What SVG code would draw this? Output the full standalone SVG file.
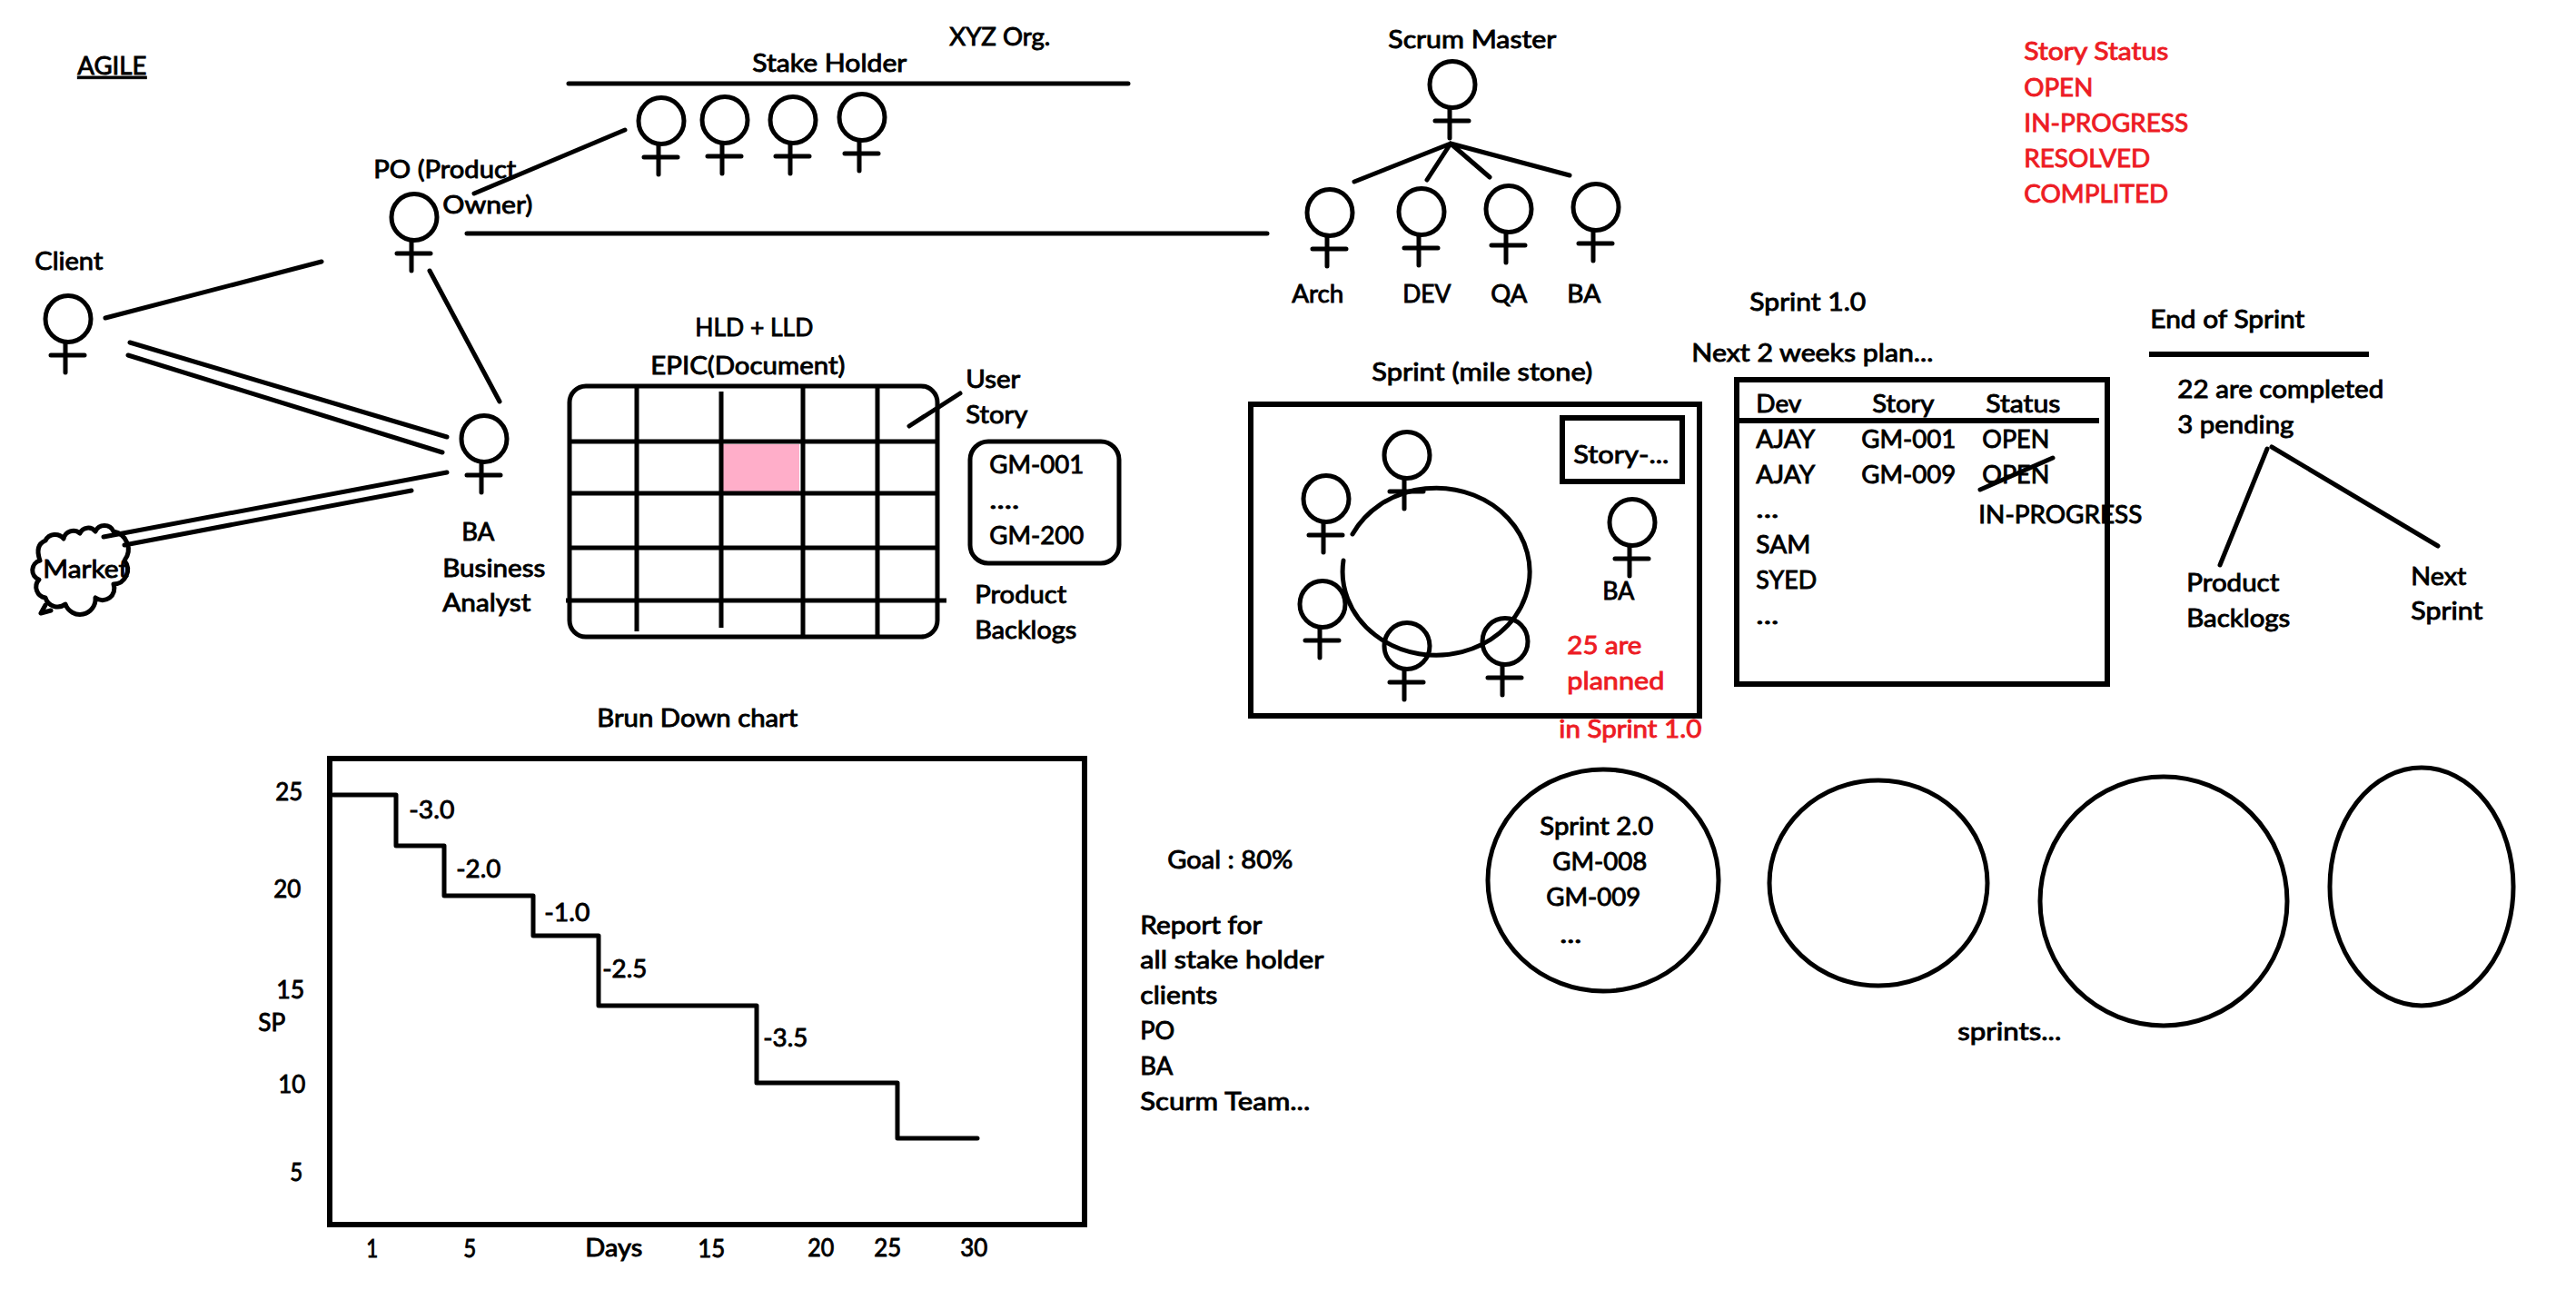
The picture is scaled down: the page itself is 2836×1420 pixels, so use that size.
<svg xmlns="http://www.w3.org/2000/svg" xmlns:xlink="http://www.w3.org/1999/xlink" width="2836" height="1420" viewBox="0 0 2836 1420">
<style>
text{font-family:"Lato","Carlito","Open Sans",sans-serif;font-size:27px;fill:#000;stroke:#000;stroke-width:.9px;transform:translateX(-.7px)}
text.r{fill:#ED1C24;stroke:#ED1C24}
.l,.s{fill:none;stroke:#000;stroke-width:5;stroke-linecap:round;stroke-linejoin:round}
.b{fill:none;stroke:#000;stroke-width:6}
.g{fill:none;stroke:#000;stroke-width:5}
</style>
<defs>
<g id="fig" class="s"><ellipse cx="0" cy="0" rx="25" ry="25.5"/><path d="M-3 26V59M-19 40H18"/></g>
</defs>
<rect width="2836" height="1420" fill="#fff"/>
<g id="title"><text x="86" y="82" textLength="76" lengthAdjust="spacingAndGlyphs" text-decoration="underline">AGILE</text><text x="1046" y="50" textLength="111" lengthAdjust="spacingAndGlyphs">XYZ Org.</text></g>
<g id="connectors">
<path class="l" d="M626 92H1242M522 213L688 143M514 257H1395M116 350L354 288M143 377L492 481M141 391L487 498M473 298L550 442M114 591L492 520M137 600L453 540"/>
<path class="l" d="M1597 158L1491 200M1597 158L1571 198M1597 158L1640 195M1597 158L1728 193"/>
<path class="l" d="M1057 433L1001 469M2496 494L2444 622M2501 492L2684 601"/>
</g>
<g id="stake-holder"><text x="829" y="79" textLength="170" lengthAdjust="spacingAndGlyphs">Stake Holder</text>
<use xlink:href="#fig" href="#fig" x="728" y="133"/><use href="#fig" x="798" y="132"/><use href="#fig" x="873" y="132"/><use href="#fig" x="949" y="129"/></g>
<g id="po"><use href="#fig" x="456" y="239"/><text x="412" y="196" textLength="157" lengthAdjust="spacingAndGlyphs">PO (Product</text><text x="488" y="235" textLength="99" lengthAdjust="spacingAndGlyphs">Owner)</text></g>
<g id="client"><use href="#fig" x="75" y="351"/><text x="39" y="297" textLength="75" lengthAdjust="spacingAndGlyphs">Client</text></g>
<g id="ba"><use href="#fig" x="533" y="483"/><text x="509" y="595" textLength="36" lengthAdjust="spacingAndGlyphs">BA</text><text x="488" y="635" textLength="113" lengthAdjust="spacingAndGlyphs">Business</text><text x="488" y="673" textLength="97" lengthAdjust="spacingAndGlyphs">Analyst</text></g>
<g id="market"><path class="l" d="M70 593A11 11 0 0 1 88 587A10 10 0 0 1 105 585A11 11 0 0 1 125 585A20 20 0 0 1 137 617A16 16 0 0 1 125 643A13 13 0 0 1 105 658A17 17 0 0 1 72 665A14 14 0 0 1 50 658A12 12 0 0 1 43 638A11 11 0 0 1 44 617Q38 600 50 595A12 12 0 0 1 70 593Z"/><path class="l" d="M50 666L45 675L56 672"/><text x="48" y="636" textLength="94" lengthAdjust="spacingAndGlyphs">Market</text></g>
<g id="epic"><text x="766" y="370" textLength="130" lengthAdjust="spacingAndGlyphs">HLD + LLD</text><text x="717" y="412" textLength="214" lengthAdjust="spacingAndGlyphs">EPIC(Document)</text>
<rect x="796" y="489" width="84" height="52" fill="#FFAEC9"/>
<rect class="g" x="627" y="425" width="405" height="276" rx="18"/>
<path class="g" d="M701 427V695M794 431V691M884 425V701M966 425V701M627 486H1032M627 543H1032M627 603H1032M623 661H1042"/>
<text x="1064" y="427" textLength="60" lengthAdjust="spacingAndGlyphs">User</text><text x="1064" y="466" textLength="68" lengthAdjust="spacingAndGlyphs">Story</text>
<text x="1074" y="664" textLength="101" lengthAdjust="spacingAndGlyphs">Product</text><text x="1074" y="703" textLength="112" lengthAdjust="spacingAndGlyphs">Backlogs</text></g>
<g id="stories"><rect class="g" x="1068" y="486" width="164" height="134" rx="20"/><text x="1090" y="521" textLength="104" lengthAdjust="spacingAndGlyphs">GM-001</text><text x="1090" y="560" textLength="33" lengthAdjust="spacingAndGlyphs">....</text><text x="1090" y="599" textLength="104" lengthAdjust="spacingAndGlyphs">GM-200</text></g>
<g id="scrum"><text x="1529" y="53" textLength="185" lengthAdjust="spacingAndGlyphs">Scrum Master</text><use href="#fig" x="1599" y="93"/></g>
<g id="arch"><use href="#fig" x="1464" y="234"/><text x="1423" y="333" textLength="57" lengthAdjust="spacingAndGlyphs">Arch</text></g>
<g id="dev"><use href="#fig" x="1565" y="233"/><text x="1545" y="333" textLength="53" lengthAdjust="spacingAndGlyphs">DEV</text></g>
<g id="qa"><use href="#fig" x="1661" y="230"/><text x="1642" y="333" textLength="40" lengthAdjust="spacingAndGlyphs">QA</text></g>
<g id="ba2"><use href="#fig" x="1757" y="228"/><text x="1726" y="333" textLength="37" lengthAdjust="spacingAndGlyphs">BA</text></g>
<g id="status"><text class="r" x="2229" y="66" textLength="159" lengthAdjust="spacingAndGlyphs">Story Status</text><text class="r" x="2229" y="106" textLength="76" lengthAdjust="spacingAndGlyphs">OPEN</text><text class="r" x="2229" y="145" textLength="181" lengthAdjust="spacingAndGlyphs">IN-PROGRESS</text><text class="r" x="2229" y="184" textLength="139" lengthAdjust="spacingAndGlyphs">RESOLVED</text><text class="r" x="2229" y="223" textLength="159" lengthAdjust="spacingAndGlyphs">COMPLITED</text></g>
<g id="sprint"><text x="1511" y="419" textLength="243" lengthAdjust="spacingAndGlyphs">Sprint (mile stone)</text>
<rect class="b" x="1377" y="445" width="494" height="343"/><rect class="b" x="1720" y="460" width="132" height="70"/><text x="1733" y="510" textLength="105" lengthAdjust="spacingAndGlyphs">Story-...</text>
<path class="l" d="M1489 588A103 92 0 1 1 1479 617"/>
<use href="#fig" x="1549" y="501"/><use href="#fig" x="1460" y="549"/><use href="#fig" x="1456" y="665"/><use href="#fig" x="1549" y="711"/><use href="#fig" x="1657" y="706"/><use href="#fig" x="1797" y="575"/>
<text x="1765" y="660" textLength="35" lengthAdjust="spacingAndGlyphs">BA</text>
<text class="r" x="1726" y="720" textLength="82" lengthAdjust="spacingAndGlyphs">25 are</text><text class="r" x="1726" y="759" textLength="107" lengthAdjust="spacingAndGlyphs">planned</text><text class="r" x="1717" y="812" textLength="157" lengthAdjust="spacingAndGlyphs">in Sprint 1.0</text></g>
<g id="plan"><text x="1927" y="342" textLength="128" lengthAdjust="spacingAndGlyphs">Sprint 1.0</text><text x="1863" y="398" textLength="266" lengthAdjust="spacingAndGlyphs">Next 2 weeks plan...</text>
<rect class="b" x="1912" y="418" width="408" height="335"/><path class="b" d="M1914 463H2311"/><path class="l" d="M2180 539L2260 504"/>
<text x="1934" y="454" textLength="50" lengthAdjust="spacingAndGlyphs">Dev</text><text x="2062" y="454" textLength="68" lengthAdjust="spacingAndGlyphs">Story</text><text x="2187" y="454" textLength="82" lengthAdjust="spacingAndGlyphs">Status</text>
<text x="1934" y="493" textLength="65" lengthAdjust="spacingAndGlyphs">AJAY</text><text x="2050" y="493" textLength="104" lengthAdjust="spacingAndGlyphs">GM-001</text><text x="2183" y="493" textLength="74" lengthAdjust="spacingAndGlyphs">OPEN</text>
<text x="1934" y="532" textLength="65" lengthAdjust="spacingAndGlyphs">AJAY</text><text x="2050" y="532" textLength="104" lengthAdjust="spacingAndGlyphs">GM-009</text><text x="2183" y="532" textLength="74" lengthAdjust="spacingAndGlyphs">OPEN</text>
<text x="1934" y="570" textLength="25" lengthAdjust="spacingAndGlyphs">...</text><text x="2179" y="576" textLength="180" lengthAdjust="spacingAndGlyphs">IN-PROGRESS</text>
<text x="1934" y="609" textLength="60" lengthAdjust="spacingAndGlyphs">SAM</text><text x="1934" y="648" textLength="67" lengthAdjust="spacingAndGlyphs">SYED</text><text x="1934" y="687" textLength="25" lengthAdjust="spacingAndGlyphs">...</text></g>
<g id="end-of-sprint"><text x="2368" y="361" textLength="170" lengthAdjust="spacingAndGlyphs">End of Sprint</text><path class="b" d="M2366 390H2608"/>
<text x="2398" y="438" textLength="227" lengthAdjust="spacingAndGlyphs">22 are completed</text><text x="2398" y="477" textLength="128" lengthAdjust="spacingAndGlyphs">3 pending</text>
<text x="2408" y="651" textLength="102" lengthAdjust="spacingAndGlyphs">Product</text><text x="2408" y="690" textLength="114" lengthAdjust="spacingAndGlyphs">Backlogs</text><text x="2655" y="644" textLength="61" lengthAdjust="spacingAndGlyphs">Next</text><text x="2655" y="682" textLength="79" lengthAdjust="spacingAndGlyphs">Sprint</text></g>
<g id="burn-down"><text x="658" y="800" textLength="221" lengthAdjust="spacingAndGlyphs">Brun Down chart</text>
<rect class="b" x="363" y="835" width="831" height="513"/>
<path class="l" d="M367 875H436V931H489V986H587V1030H659V1107H833V1192H988V1253H1076"/>
<text x="304" y="881" textLength="30" lengthAdjust="spacingAndGlyphs">25</text><text x="302" y="988" textLength="30" lengthAdjust="spacingAndGlyphs">20</text><text x="305" y="1099" textLength="31" lengthAdjust="spacingAndGlyphs">15</text><text x="285" y="1135" textLength="30" lengthAdjust="spacingAndGlyphs">SP</text><text x="307" y="1203" textLength="30" lengthAdjust="spacingAndGlyphs">10</text><text x="320" y="1300" textLength="14" lengthAdjust="spacingAndGlyphs">5</text>
<text x="451" y="901" textLength="50" lengthAdjust="spacingAndGlyphs">-3.0</text><text x="503" y="966" textLength="49" lengthAdjust="spacingAndGlyphs">-2.0</text><text x="600" y="1014" textLength="50" lengthAdjust="spacingAndGlyphs">-1.0</text><text x="664" y="1076" textLength="49" lengthAdjust="spacingAndGlyphs">-2.5</text><text x="841" y="1152" textLength="49" lengthAdjust="spacingAndGlyphs">-3.5</text>
<text x="404" y="1384" textLength="13" lengthAdjust="spacingAndGlyphs">1</text><text x="511" y="1384" textLength="14" lengthAdjust="spacingAndGlyphs">5</text><text x="645" y="1383" textLength="63" lengthAdjust="spacingAndGlyphs">Days</text><text x="769" y="1384" textLength="30" lengthAdjust="spacingAndGlyphs">15</text><text x="890" y="1383" textLength="29" lengthAdjust="spacingAndGlyphs">20</text><text x="963" y="1383" textLength="30" lengthAdjust="spacingAndGlyphs">25</text><text x="1058" y="1383" textLength="30" lengthAdjust="spacingAndGlyphs">30</text></g>
<g id="report"><text x="1286" y="956" textLength="138" lengthAdjust="spacingAndGlyphs">Goal : 80%</text><text x="1256" y="1028" textLength="134" lengthAdjust="spacingAndGlyphs">Report for</text><text x="1256" y="1066" textLength="202" lengthAdjust="spacingAndGlyphs">all stake holder</text><text x="1256" y="1105" textLength="85" lengthAdjust="spacingAndGlyphs">clients</text><text x="1256" y="1144" textLength="38" lengthAdjust="spacingAndGlyphs">PO</text><text x="1256" y="1183" textLength="36" lengthAdjust="spacingAndGlyphs">BA</text><text x="1256" y="1222" textLength="187" lengthAdjust="spacingAndGlyphs">Scurm Team...</text></g>
<g id="sprint2"><ellipse class="l" cx="1765" cy="969" rx="127" ry="122"/><text x="1696" y="919" textLength="125" lengthAdjust="spacingAndGlyphs">Sprint 2.0</text><text x="1710" y="958" textLength="104" lengthAdjust="spacingAndGlyphs">GM-008</text><text x="1703" y="997" textLength="104" lengthAdjust="spacingAndGlyphs">GM-009</text><text x="1718" y="1038" textLength="24" lengthAdjust="spacingAndGlyphs">...</text></g>
<g id="sprint3"><ellipse class="l" cx="2068" cy="972" rx="120" ry="113"/></g>
<g id="sprint4"><ellipse class="l" cx="2382" cy="992" rx="136" ry="137"/></g>
<g id="sprint5"><ellipse class="l" cx="2666" cy="976" rx="101" ry="131"/></g>
<g id="sprints-label"><text x="2156" y="1145" textLength="114" lengthAdjust="spacingAndGlyphs">sprints...</text></g>
</svg>
